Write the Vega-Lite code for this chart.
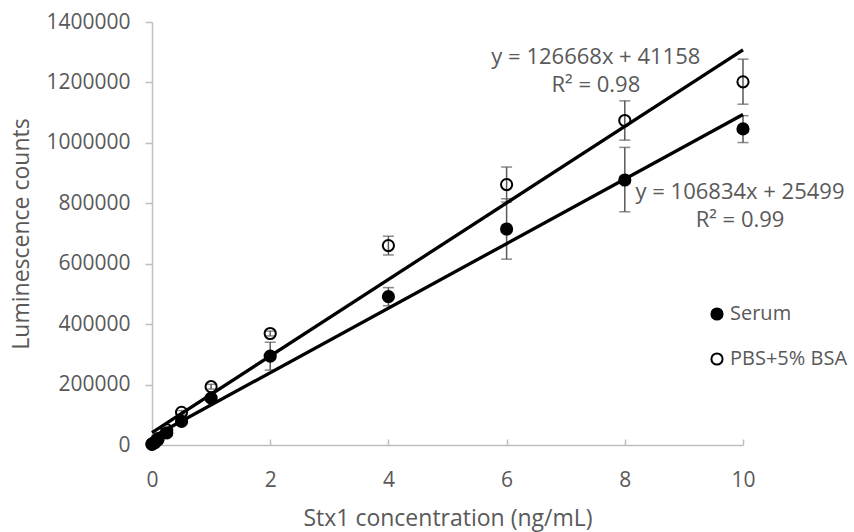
{
  "$schema": "https://vega.github.io/schema/vega-lite/v6.json",
  "width": 591,
  "height": 423,
  "autosize": {"type": "none"},
  "padding": {"left": 152, "top": 22, "right": 111, "bottom": 87},
  "background": "white",
  "config": {"view": {"stroke": null}, "font": "Open Sans"},
  "datasets": {
    "pts": [
      {"series": "Serum", "conc": 0, "lum": 2000},
      {"series": "Serum", "conc": 0.05, "lum": 8000},
      {"series": "Serum", "conc": 0.1, "lum": 17000},
      {"series": "Serum", "conc": 0.25, "lum": 40000},
      {"series": "Serum", "conc": 0.5, "lum": 78000, "lo": 72000, "hi": 84000},
      {"series": "Serum", "conc": 1, "lum": 155000, "lo": 147000, "hi": 163000},
      {"series": "Serum", "conc": 2, "lum": 294000, "lo": 248000, "hi": 340000},
      {"series": "Serum", "conc": 4, "lum": 491000, "lo": 461000, "hi": 521000},
      {"series": "Serum", "conc": 6, "lum": 715000, "lo": 615000, "hi": 815000},
      {"series": "Serum", "conc": 8, "lum": 877000, "lo": 772000, "hi": 985000},
      {"series": "Serum", "conc": 10, "lum": 1046000, "lo": 1001000, "hi": 1090000},
      {"series": "PBS+5% BSA", "conc": 0, "lum": 4000},
      {"series": "PBS+5% BSA", "conc": 0.05, "lum": 10000},
      {"series": "PBS+5% BSA", "conc": 0.1, "lum": 21000},
      {"series": "PBS+5% BSA", "conc": 0.25, "lum": 50000},
      {"series": "PBS+5% BSA", "conc": 0.5, "lum": 108000, "lo": 102000, "hi": 114000},
      {"series": "PBS+5% BSA", "conc": 1, "lum": 193000, "lo": 185000, "hi": 201000},
      {"series": "PBS+5% BSA", "conc": 2, "lum": 369000, "lo": 361000, "hi": 377000},
      {"series": "PBS+5% BSA", "conc": 4, "lum": 660000, "lo": 629000, "hi": 691000},
      {"series": "PBS+5% BSA", "conc": 6, "lum": 862000, "lo": 804000, "hi": 920000},
      {"series": "PBS+5% BSA", "conc": 8, "lum": 1074000, "lo": 1009000, "hi": 1139000},
      {"series": "PBS+5% BSA", "conc": 10, "lum": 1202000, "lo": 1128000, "hi": 1277000}
    ],
    "fit": [
      {"series": "Serum", "conc": 0, "lum": 25499},
      {"series": "Serum", "conc": 10, "lum": 1093839},
      {"series": "PBS+5% BSA", "conc": 0, "lum": 41158},
      {"series": "PBS+5% BSA", "conc": 10, "lum": 1307838}
    ],
    "notes": [
      {"eq": "y = 126668x + 41158", "r2": "R² = 0.98"},
      {"eq": "y = 106834x + 25499", "r2": "R² = 0.99"}
    ]
  },
  "layer": [
    {
      "data": {"name": "pts"},
      "mark": {"type": "rule", "color": "#595959", "strokeWidth": 1.5},
      "encoding": {
        "x": {
          "field": "conc", "type": "quantitative",
          "scale": {"domain": [0, 10], "nice": false, "zero": false},
          "axis": {
            "title": "Stx1 concentration (ng/mL)",
            "values": [0, 2, 4, 6, 8, 10],
            "format": "d",
            "labelFlush": false,
            "grid": false,
            "domainColor": "#bfbfbf", "domainWidth": 1.5,
            "tickColor": "#bfbfbf", "tickSize": -6, "tickWidth": 1.5,
            "labelFont": "Open Sans", "labelFontSize": 21, "labelColor": "#595959",
            "labelPadding": 30,
            "titleFont": "Open Sans", "titleFontSize": 23, "titleFontWeight": "normal",
            "titleColor": "#595959", "titlePadding": 17
          }
        },
        "y": {
          "field": "lo", "type": "quantitative",
          "scale": {"domain": [0, 1400000], "nice": false},
          "axis": {
            "title": "Luminescence counts",
            "values": [0, 200000, 400000, 600000, 800000, 1000000, 1200000, 1400000],
            "format": "d",
            "grid": false,
            "domainColor": "#bfbfbf", "domainWidth": 1.5,
            "tickColor": "#bfbfbf", "tickSize": 7, "tickWidth": 1.5,
            "labelFont": "Open Sans", "labelFontSize": 21, "labelColor": "#595959",
            "labelPadding": 15,
            "titleFont": "Open Sans", "titleFontSize": 23, "titleFontWeight": "normal",
            "titleColor": "#595959", "titlePadding": 12
          }
        },
        "y2": {"field": "hi"}
      }
    },
    {
      "data": {"name": "pts"},
      "mark": {"type": "tick", "orient": "horizontal", "color": "#595959", "size": 11, "thickness": 1.5},
      "encoding": {
        "x": {"field": "conc", "type": "quantitative"},
        "y": {"field": "lo", "type": "quantitative"}
      }
    },
    {
      "data": {"name": "pts"},
      "mark": {"type": "tick", "orient": "horizontal", "color": "#595959", "size": 11, "thickness": 1.5},
      "encoding": {
        "x": {"field": "conc", "type": "quantitative"},
        "y": {"field": "hi", "type": "quantitative"}
      }
    },
    {
      "data": {"name": "pts"},
      "mark": {"type": "point", "shape": "circle", "size": 125, "stroke": "black", "strokeWidth": 2, "opacity": 1, "filled": false},
      "encoding": {
        "x": {"field": "conc", "type": "quantitative"},
        "y": {"field": "lum", "type": "quantitative"},
        "fill": {
          "field": "series", "type": "nominal",
          "scale": {"domain": ["Serum", "PBS+5% BSA"], "range": ["black", "transparent"]},
          "legend": {
            "title": null,
            "orient": "none",
            "legendX": 555,
            "legendY": 282,
            "symbolType": "circle",
            "symbolSize": 125,
            "symbolStrokeColor": "black",
            "symbolStrokeWidth": 2,
            "labelFont": "Open Sans",
            "labelFontSize": 20,
            "labelColor": "#595959",
            "labelOffset": 3,
            "rowPadding": 25,
            "padding": 0
          }
        }
      }
    },
    {
      "data": {"name": "fit"},
      "mark": {"type": "line", "color": "black", "strokeWidth": 3.3},
      "encoding": {
        "x": {"field": "conc", "type": "quantitative"},
        "y": {"field": "lum", "type": "quantitative"},
        "detail": {"field": "series", "type": "nominal"}
      }
    },
    {
      "data": {"name": "notes"},
      "transform": [{"filter": "datum.r2 == 'R² = 0.98'"}],
      "mark": {"type": "text", "font": "Open Sans", "fontSize": 22, "color": "#595959", "align": "center", "baseline": "middle", "lineHeight": 28},
      "encoding": {
        "x": {"datum": 7.51, "type": "quantitative"},
        "y": {"datum": 1284000, "type": "quantitative"},
        "text": {"value": ["y = 126668x + 41158", "R² = 0.98"]}
      }
    },
    {
      "data": {"name": "notes"},
      "transform": [{"filter": "datum.r2 == 'R² = 0.99'"}],
      "mark": {"type": "text", "font": "Open Sans", "fontSize": 22, "color": "#595959", "align": "center", "baseline": "middle", "lineHeight": 28},
      "encoding": {
        "x": {"datum": 9.95, "type": "quantitative"},
        "y": {"datum": 837000, "type": "quantitative"},
        "text": {"value": ["y = 106834x + 25499", "R² = 0.99"]}
      }
    }
  ]
}
